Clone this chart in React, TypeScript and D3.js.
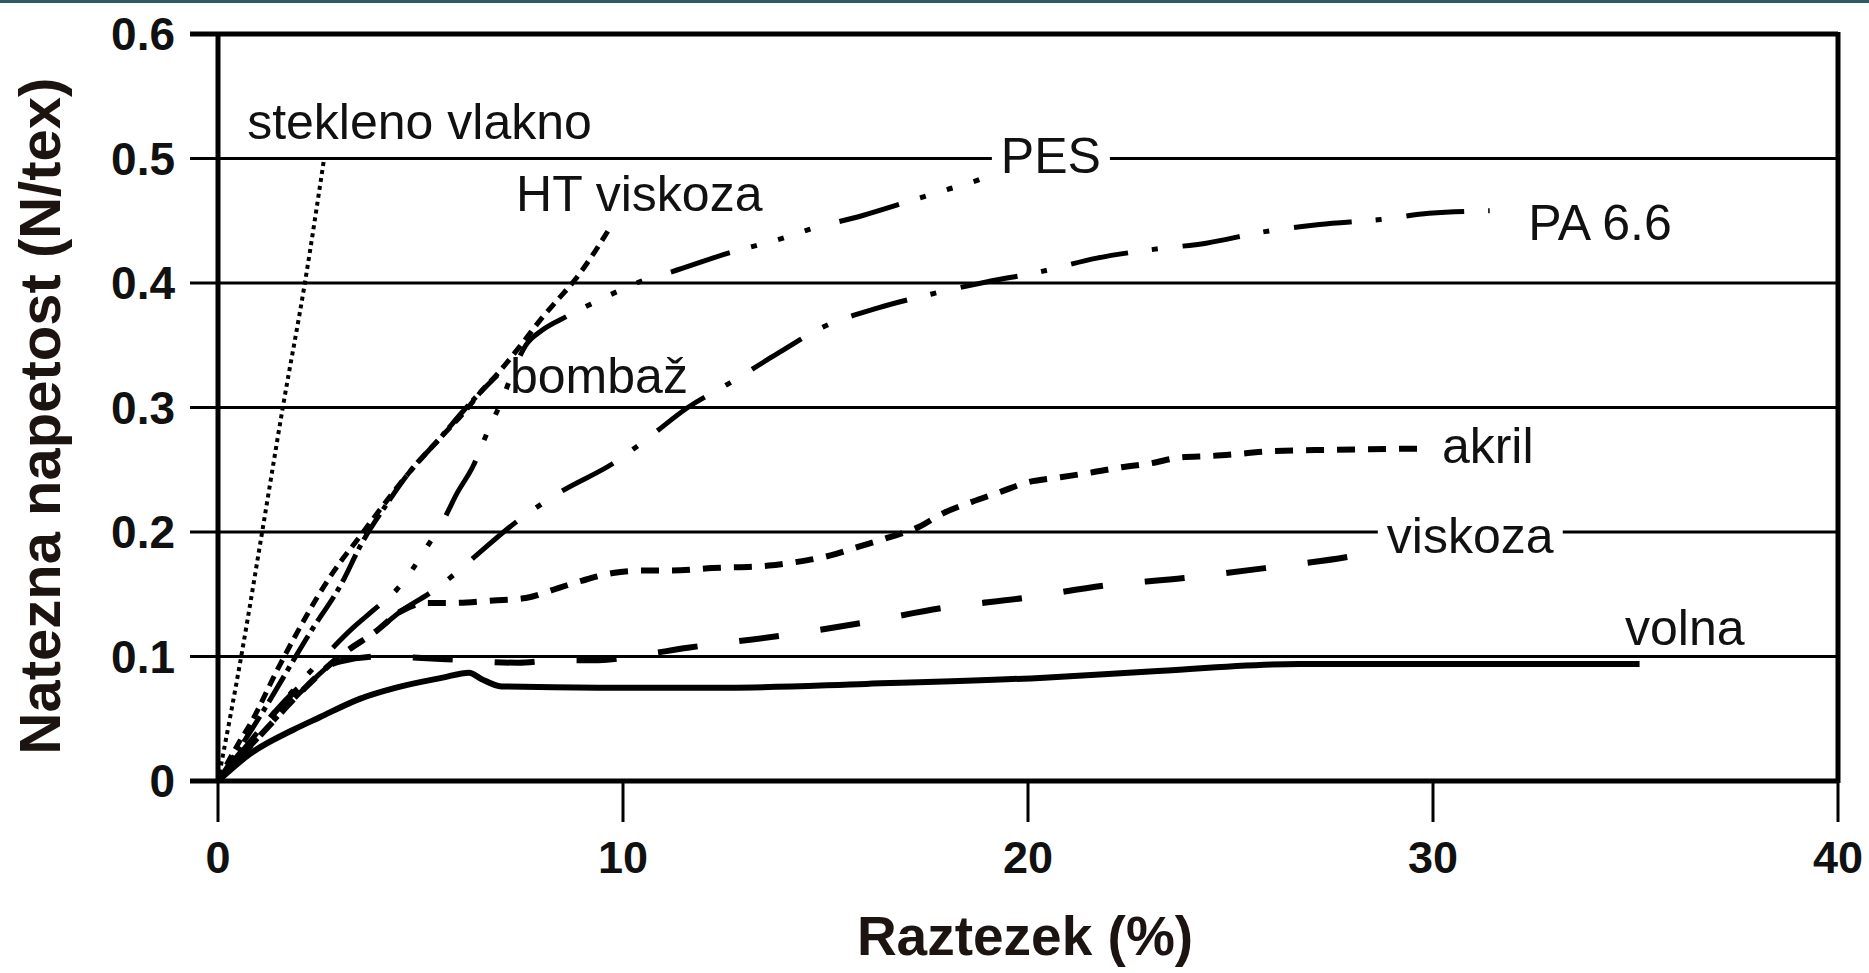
import { useEffect, useRef } from "react"
import * as d3 from "d3"

type Pt = [number, number]

const WIDTH = 1869
const HEIGHT = 973
const FONT = "'Liberation Sans', Arial, sans-serif"

// raztezek (%) , napetost (N/tex)
const steklenoVlakno: Pt[] = [[0, 0], [0.6, 0.105], [1.09, 0.2], [1.6, 0.3], [2.15, 0.401], [2.62, 0.5]]

const htViskoza: Pt[] = [
  [0, 0], [0.5, 0.03], [0.8, 0.046], [1.46, 0.089], [1.95, 0.119], [2.44, 0.147], [3.0, 0.175],
  [3.4, 0.192], [4.0, 0.218], [4.7, 0.247], [5.5, 0.276], [6.1, 0.297], [6.5, 0.313], [6.9, 0.327],
  [7.5, 0.351], [8.0, 0.372], [8.4, 0.387], [8.8, 0.402], [9.2, 0.42], [9.65, 0.443],
]

const bombaz: Pt[] = [
  [0, 0], [1, 0.05], [2.27, 0.119], [3.09, 0.161], [3.5, 0.188], [4.2, 0.224], [4.7, 0.247],
  [5.5, 0.276], [6.05, 0.297], [6.5, 0.313], [6.9, 0.326],
]

const pes: Pt[] = [
  [0, 0], [1, 0.04], [2, 0.078], [2.6, 0.099], [3.33, 0.123], [3.83, 0.137], [4.42, 0.154],
  [4.8, 0.17], [5.2, 0.19], [5.56, 0.209], [5.9, 0.231], [6.3, 0.253], [6.65, 0.28], [7.0, 0.305],
  [7.3, 0.33], [7.6, 0.35], [8.0, 0.362], [8.6, 0.373], [9.2, 0.383], [9.85, 0.393], [10.5, 0.402],
  [11.2, 0.409], [12.6, 0.424], [13.95, 0.436], [14.6, 0.443], [15.9, 0.454], [17.3, 0.468],
  [18.0, 0.475], [18.8, 0.483], [19.1, 0.487],
]

const pa66: Pt[] = [
  [0, 0], [1, 0.035], [2, 0.07], [3, 0.1], [3.93, 0.121], [4.5, 0.136], [5.23, 0.151], [5.8, 0.165],
  [6.3, 0.179], [7.4, 0.209], [8.5, 0.233], [9.75, 0.255], [10.6, 0.275], [11.6, 0.3], [12.6, 0.319],
  [13.8, 0.343], [14.9, 0.364], [16.3, 0.38], [17.6, 0.391], [19.0, 0.401], [20.3, 0.409],
  [21.7, 0.42], [23.1, 0.427], [24.4, 0.432], [25.8, 0.441], [27.2, 0.447], [28.7, 0.451],
  [29.9, 0.456], [31.4, 0.458],
]

const akril: Pt[] = [
  [0, 0], [1, 0.035], [2, 0.07], [3, 0.1], [3.93, 0.121], [4.5, 0.136], [5.15, 0.143], [5.8, 0.143],
  [6.8, 0.145], [7.6, 0.147], [8.4, 0.155], [9.0, 0.161], [9.75, 0.167], [10.5, 0.169], [11.2, 0.169],
  [12.2, 0.171], [13.6, 0.173], [14.3, 0.176], [15.1, 0.181], [15.8, 0.188], [16.5, 0.195],
  [17.3, 0.204], [17.9, 0.215], [18.6, 0.224], [19.3, 0.232], [20.0, 0.24], [20.8, 0.244],
  [21.6, 0.248], [22.3, 0.252], [23.0, 0.255], [23.8, 0.26], [24.5, 0.261], [25.3, 0.263],
  [26.0, 0.265], [27.5, 0.266], [29.7, 0.267],
]

const viskoza: Pt[] = [
  [0, 0], [1, 0.04], [2, 0.075], [3, 0.096], [4, 0.1], [5.5, 0.098], [7.4, 0.095], [8.4, 0.097],
  [9.4, 0.097], [10.4, 0.101], [11.6, 0.107], [13.95, 0.117], [15.9, 0.127], [17.9, 0.139],
  [19.9, 0.147], [21.9, 0.157], [23.85, 0.163], [25.85, 0.171], [27.9, 0.18], [28.4, 0.183],
]

const volna: Pt[] = [
  [0, 0], [0.8, 0.022], [1.85, 0.041], [2.5, 0.051], [3.5, 0.066], [4.4, 0.075], [5.55, 0.083],
  [6.2, 0.087], [6.5, 0.082], [7.0, 0.076], [9.4, 0.075], [12.6, 0.075], [16, 0.078], [20.4, 0.083],
  [23, 0.088], [26.7, 0.094], [30, 0.094], [35.1, 0.094],
]

const xTicks = [0, 10, 20, 30, 40]
const yTicks = [0, 0.1, 0.2, 0.3, 0.4, 0.5, 0.6]
const yTickLabels = ["0", "0.1", "0.2", "0.3", "0.4", "0.5", "0.6"]

const seriesNames = ["stekleno vlakno", "HT viskoza", "bombaž", "PES", "PA 6.6", "akril", "viskoza", "volna"]
const seriesData = [steklenoVlakno, htViskoza, bombaz, pes, pa66, akril, viskoza, volna]
// label anchor (start, baseline) in data units
const labelX = [0.72, 7.36, 7.21, 19.33, 32.35, 30.22, 28.86, 34.74]
const labelY = [0.516, 0.458, 0.3116, 0.488, 0.4345, 0.2554, 0.183, 0.109]

const STYLE: Record<string, { dash: string; w: number }> = {
  "stekleno vlakno": { dash: "4,4", w: 4 },
  "HT viskoza": { dash: "11,7", w: 5 },
  "bombaž": { dash: "30,6,5,6", w: 5 },
  "PES": { dash: "62,22,6,22,6,22,6,30", w: 5 },
  "PA 6.6": { dash: "58,24,6,25", w: 5 },
  "akril": { dash: "18,13", w: 6 },
  "viskoza": { dash: "40,42", w: 6 },
  "volna": { dash: "none", w: 6 },
}

// labels that sit on a grid line get a white box
const boxed = ["PES", "viskoza"]

export default function App() {
  const svgRef = useRef<SVGSVGElement>(null)

  useEffect(() => {
    if (!svgRef.current) return
    const svg = d3.select(svgRef.current)
    svg.selectAll("*").remove()

    const x = d3.scaleLinear().domain([0, 40]).range([218, 1838])
    const y = d3.scaleLinear().domain([0, 0.6]).range([781, 34])

    svg.append("rect").attr("width", WIDTH).attr("height", HEIGHT).attr("fill", "#fff")
    svg.append("rect").attr("width", WIDTH).attr("height", 3).attr("fill", "#2e5b5e")

    // horizontal grid lines + left ticks
    yTicks.forEach((t) => {
      const edge = t === 0 || t === 0.6
      svg.append("line")
        .attr("x1", 190).attr("x2", x(40))
        .attr("y1", y(t)).attr("y2", y(t))
        .attr("stroke", "#000")
        .attr("stroke-width", edge ? 5 : 3)
    })

    // x ticks
    xTicks.forEach((t) => {
      svg.append("line")
        .attr("x1", x(t)).attr("x2", x(t))
        .attr("y1", y(0)).attr("y2", y(0) + 41)
        .attr("stroke", "#000").attr("stroke-width", 3)
    })

    // frame verticals
    svg.append("line").attr("x1", x(0)).attr("x2", x(0)).attr("y1", y(0.6) - 2).attr("y2", y(0) + 2)
      .attr("stroke", "#000").attr("stroke-width", 5)
    svg.append("line").attr("x1", x(40)).attr("x2", x(40)).attr("y1", y(0.6) - 2).attr("y2", y(0) + 2)
      .attr("stroke", "#000").attr("stroke-width", 5)

    // tick labels
    yTicks.forEach((t, i) => {
      svg.append("text")
        .attr("x", 175).attr("y", y(t) + 16)
        .attr("text-anchor", "end")
        .attr("font-family", FONT).attr("font-weight", "bold").attr("font-size", 46)
        .attr("fill", "#111")
        .text(yTickLabels[i])
    })
    xTicks.forEach((t) => {
      svg.append("text")
        .attr("x", x(t)).attr("y", 873)
        .attr("text-anchor", "middle")
        .attr("font-family", FONT).attr("font-weight", "bold").attr("font-size", 45)
        .attr("fill", "#111")
        .text(String(t))
    })

    // axis titles
    svg.append("text")
      .attr("transform", `translate(60,416) rotate(-90)`)
      .attr("text-anchor", "middle")
      .attr("font-family", FONT).attr("font-weight", "bold").attr("font-size", 58)
      .attr("fill", "#1c1410")
      .text("Natezna napetost (N/tex)")
    svg.append("text")
      .attr("x", 1025).attr("y", 955)
      .attr("text-anchor", "middle")
      .attr("font-family", FONT).attr("font-weight", "bold").attr("font-size", 55)
      .attr("fill", "#1c1410")
      .text("Raztezek (%)")

    // curves
    const line = d3.line<Pt>().x((d) => x(d[0])).y((d) => y(d[1])).curve(d3.curveMonotoneX)
    seriesData.forEach((data, i) => {
      const st = STYLE[seriesNames[i]]
      svg.append("path")
        .datum(data)
        .attr("fill", "none")
        .attr("stroke", "#000")
        .attr("stroke-width", st.w)
        .attr("stroke-dasharray", st.dash)
        .attr("stroke-linejoin", "round")
        .attr("d", line)
    })

    // series labels
    seriesNames.forEach((name, i) => {
      const t = svg.append("text")
        .attr("x", x(labelX[i])).attr("y", y(labelY[i]))
        .attr("font-family", FONT).attr("font-size", 50)
        .attr("fill", "#111")
        .text(name)
      if (boxed.includes(name)) {
        const bb = (t.node() as SVGTextElement).getBBox()
        svg.insert("rect", () => t.node() as SVGTextElement)
          .attr("x", bb.x - 9).attr("y", bb.y + 4)
          .attr("width", bb.width + 18).attr("height", bb.height - 8)
          .attr("fill", "#fff")
      }
    })
  }, [])

  return (
    <svg
      ref={svgRef}
      width={WIDTH}
      height={HEIGHT}
      style={{ position: "absolute", left: 0, top: 0, display: "block" }}
    />
  )
}
